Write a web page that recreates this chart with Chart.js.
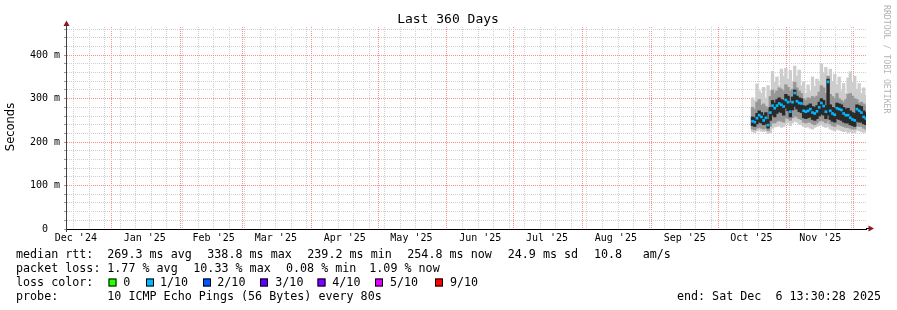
<!DOCTYPE html>
<html><head><meta charset="utf-8">
<script src="https://cdn.jsdelivr.net/npm/chart.js@4.4.1/dist/chart.umd.min.js"></script>
<style>html,body{margin:0;padding:0;background:#fff;}#wrap{width:897px;height:310px;}</style>
</head><body><div id="wrap"><canvas id="c" width="897" height="310"></canvas></div>
<script>
// ---- data (milliseconds) ----
const dates = ["2025-10-16","2025-10-17","2025-10-18","2025-10-19","2025-10-20","2025-10-21","2025-10-22","2025-10-23","2025-10-24","2025-10-25",
"2025-10-26","2025-10-27","2025-10-28","2025-10-29","2025-10-30","2025-10-31","2025-11-01","2025-11-02","2025-11-03","2025-11-04",
"2025-11-05","2025-11-06","2025-11-07","2025-11-08","2025-11-09","2025-11-10","2025-11-11","2025-11-12","2025-11-13","2025-11-14",
"2025-11-15","2025-11-16","2025-11-17","2025-11-18","2025-11-19","2025-11-20","2025-11-21","2025-11-22","2025-11-23","2025-11-24",
"2025-11-25","2025-11-26","2025-11-27","2025-11-28","2025-11-29","2025-11-30","2025-12-01","2025-12-02","2025-12-03","2025-12-04",
"2025-12-05","2025-12-06"];
const medianMs = [248,246,255,262,258,250,256,239.2,268,284, 278,284,289,286,282,297,292,270,292,313, 294,290,289,272,270,272,276,268,266,271,
280,290,283,270,338.8,272,266,263,278,276, 274,266,262,262,256,252,250,276,272,268, 258,254.8];
const minMs = [224,222,226,228,225,224,226,220,222,232, 235,236,238,234,236,242,245,238,244,248, 246,242,240,236,234,236,232,230,234,236,
238,240,236,234,236,230,228,226,230,228, 226,224,226,222,224,220,222,228,226,224, 222,224];
const maxMs = [302,296,334,318,312,326,300,330,318,363, 338,350,330,368,352,370,345,365,340,375, 352,366,330,338,312,332,318,350,328,345,
340,380,358,372,350,368,340,356,332,350, 318,335,312,348,362,338,352,322,335,312, 325,308];
const p10Ms = [230,228,232,234,232,230,232,226,236,244, 244,248,250,248,246,256,254,250,256,260, 258,254,252,246,244,246,246,242,240,244,
248,250,248,244,250,242,238,236,242,240, 238,236,234,234,232,230,230,238,236,236, 232,230];
const p90Ms = [280,275,292,298,285,288,282,278,305,320, 312,318,325,322,318,332,326,318,322,338, 325,318,312,300,296,302,300,305,302,306,
315,330,325,312,352,310,305,300,312,300, 296,292,298,310,312,306,300,298,290,292, 288,285];
const p25Ms = [238,236,242,246,244,240,242,232,250,262, 258,266,270,268,262,278,272,258,274,282, 276,270,268,256,254,256,258,252,250,254,
260,264,262,254,262,252,248,246,254,252, 250,246,244,244,240,238,236,248,246,246, 242,240];
const p75Ms = [258,256,266,272,268,262,268,252,280,296, 290,298,302,298,296,310,306,290,304,320, 306,302,300,284,282,285,288,282,280,284,
292,300,296,284,345,286,280,278,290,288, 286,280,276,278,272,268,266,286,284,282, 272,268];
const monthLabels = ["Dec '24","Jan '25","Feb '25","Mar '25","Apr '25","May '25","Jun '25","Jul '25","Aug '25","Sep '25","Oct '25","Nov '25","Dec '25"];
const yTickValues = [0,20,40,60,80,100,120,140,160,180,200,220,240,260,280,300,320,340,360,380,400,420,440,460];

// ---- helpers ----
const start = new Date(2024, 11, 11, 13, 30, 28);
const DAY = 86400000;
const toDays = d => (d - start) / DAY;
const xs = dates.map(s => { const p = s.split('-').map(Number); return toDays(new Date(p[0], p[1]-1, p[2], 12)); });
const band = (lo, hi) => xs.map((x, i) => ({x: x, y: [lo[i], hi[i]]}));

function buildXTicks() {
  const t = [];
  let d = new Date(2024, 11, 15); // Sundays
  while (toDays(d) <= 360) { t.push({value: toDays(d), kind: 'minor'}); d = new Date(d.getFullYear(), d.getMonth(), d.getDate() + 7); }
  monthLabels.forEach((lab, i) => {
    const v = toDays(new Date(2024, 11 + i, 1));
    if (v >= 0 && v <= 360) t.push({value: v, kind: 'major'});
    const lv = toDays(new Date(2024, 11 + i, 16));
    if (lv >= 0 && lv <= 360) t.push({value: lv, kind: 'label', lbl: lab});
  });
  return t;
}

const MONO = "'DejaVu Sans Mono', monospace";
const GRID_MINOR = '#cfcfcf';
const GRID_MAJOR = '#ff8c8c';

const overlay = {
  id: 'overlay',
  afterDraw(chart) {
    const ctx = chart.ctx, a = chart.chartArea;
    ctx.save();
    ctx.strokeStyle = '#444'; ctx.lineWidth = 1;
    ctx.beginPath(); ctx.moveTo(a.left + 0.5, a.top); ctx.lineTo(a.left + 0.5, 24); ctx.stroke();
    ctx.beginPath(); ctx.moveTo(a.left + 0.5, a.bottom); ctx.lineTo(a.left + 0.5, a.bottom + 3); ctx.stroke();
    ctx.strokeStyle = '#000';
    ctx.beginPath(); ctx.moveTo(a.right, a.bottom - 0.5); ctx.lineTo(869, a.bottom - 0.5); ctx.stroke();
    ctx.fillStyle = '#8b1a1a';
    ctx.beginPath(); ctx.moveTo(a.left + 0.5, 20.5); ctx.lineTo(a.left - 2.5, 26); ctx.lineTo(a.left + 3.5, 26); ctx.closePath(); ctx.fill();
    ctx.beginPath(); ctx.moveTo(874, a.bottom - 0.5); ctx.lineTo(868.5, a.bottom - 3.5); ctx.lineTo(868.5, a.bottom + 2.5); ctx.closePath(); ctx.fill();
    ctx.fillStyle = '#000'; ctx.textBaseline = 'middle';
    ctx.font = "13px " + MONO; ctx.textAlign = 'center';
    ctx.fillText('Last 360 Days', 448, 19.5);
    ctx.save(); ctx.translate(11, 127); ctx.rotate(-Math.PI / 2);
    ctx.font = "11.5px 'DejaVu Sans', sans-serif"; ctx.fillText('Seconds', 0, 0); ctx.restore();
    ctx.save(); ctx.translate(886.5, 5); ctx.rotate(Math.PI / 2);
    ctx.font = "8.2px " + MONO; ctx.textAlign = 'left'; ctx.fillStyle = '#b4b4b4';
    ctx.fillText('RRDTOOL / TOBI OETIKER', 0, 0); ctx.restore();
    ctx.font = "11.7px " + MONO; ctx.textAlign = 'left'; ctx.fillStyle = '#000';
    const L = (s, x, y) => ctx.fillText(s, x, y);
    const y1 = 254.5, y2 = 268.5, y3 = 282.5, y4 = 296.7;
    L('median rtt:', 16, y1); L('269.3 ms avg', 107.3, y1); L('338.8 ms max', 207.3, y1); L('239.2 ms min', 307.3, y1);
    L('254.8 ms now', 407.3, y1); L('24.9 ms sd', 507.7, y1); L('10.8', 594, y1); L('am/s', 642.7, y1);
    L('packet loss:', 16, y2); L('1.77 % avg', 107.3, y2); L('10.33 % max', 193.3, y2); L('0.08 % min', 286, y2); L('1.09 % now', 369.3, y2);
    L('loss color:', 16, y3);
    const boxes = [['#26ff00','0',108.5,123.3],['#00b8ff','1/10',146,160],['#0059ff','2/10',203,217.3],['#5e00ff','3/10',260,275.3],
                   ['#7e00ff','4/10',317.5,332.3],['#dd00ff','5/10',375,390],['#ff0000','9/10',435,450]];
    boxes.forEach(b => {
      ctx.fillStyle = b[0]; ctx.fillRect(b[2], 278.5, 8, 8);
      ctx.strokeStyle = '#000'; ctx.lineWidth = 1; ctx.strokeRect(b[2] + 0.5, 278.5 + 0.5, 7, 7);
      ctx.fillStyle = '#000'; L(b[1], b[3], y3);
    });
    L('probe:', 16, y4); L('10 ICMP Echo Pings (56 Bytes) every 80s', 107.3, y4);
    ctx.textAlign = 'right'; L('end: Sat Dec  6 13:30:28 2025', 881, y4);
    ctx.restore();
  }
};

const barCommon = {type: 'bar', grouped: false, barThickness: 2.7, borderWidth: 0, borderSkipped: false};
new Chart(document.getElementById('c'), {
  type: 'bar',
  data: {
    datasets: [
      {type: 'line', label: 'median', data: xs.map((x, i) => ({x: x, y: medianMs[i]})), showLine: false,
       pointStyle: 'rect', pointRadius: 1.9, pointBackgroundColor: '#00b8ff', pointBorderWidth: 0, order: 0},
      Object.assign({label: 'p25-p75', data: band(p25Ms, p75Ms), backgroundColor: '#2a2a2a', order: 1}, barCommon),
      Object.assign({label: 'p10-p90', data: band(p10Ms, p90Ms), backgroundColor: '#979797', order: 2}, barCommon),
      Object.assign({label: 'min-max', data: band(minMs, maxMs), backgroundColor: '#cdcdcd', order: 3}, barCommon)
    ]
  },
  options: {
    responsive: false, animation: false, devicePixelRatio: 1,
    layout: {padding: {left: 0, right: 31, top: 27, bottom: 61}},
    plugins: {legend: {display: false}, tooltip: {enabled: false}},
    scales: {
      x: {
        type: 'linear', min: 0, max: 360, offset: false,
        afterBuildTicks: s => { s.ticks = buildXTicks(); },
        afterFit: s => { s.height = 20; },
        grid: {offset: false, lineWidth: 1, drawTicks: false,
          color: c => (c.tick && c.tick.kind === 'major') ? GRID_MAJOR : ((c.tick && c.tick.kind === 'minor') ? GRID_MINOR : 'rgba(255,255,255,0)')},
        border: {display: true, color: '#000', width: 1, dash: [1, 1]},
        ticks: {autoSkip: false, maxRotation: 0, padding: 3, color: '#000',
          font: {family: 'DejaVu Sans Mono', size: 10},
          callback: (v, i, t) => t[i] && t[i].kind === 'label' ? t[i].lbl : ''}
      },
      y: {
        type: 'linear', min: 0, max: 465,
        afterBuildTicks: s => { s.ticks = yTickValues.map(v => ({value: v})); },
        afterFit: s => { s.width = 66; },
        grid: {lineWidth: 1, tickLength: 2,
          color: c => (c.tick && Math.round(c.tick.value) % 100 === 0) ? GRID_MAJOR : GRID_MINOR,
          tickColor: '#999'},
        border: {display: true, color: '#444', width: 1, dash: [1, 1]},
        ticks: {autoSkip: false, padding: 4, color: '#000', font: {family: 'DejaVu Sans Mono', size: 10},
          callback: v => v % 100 === 0 ? (v === 0 ? '0  ' : v + ' m') : ''}
      }
    }
  },
  plugins: [overlay]
});
</script></body></html>
